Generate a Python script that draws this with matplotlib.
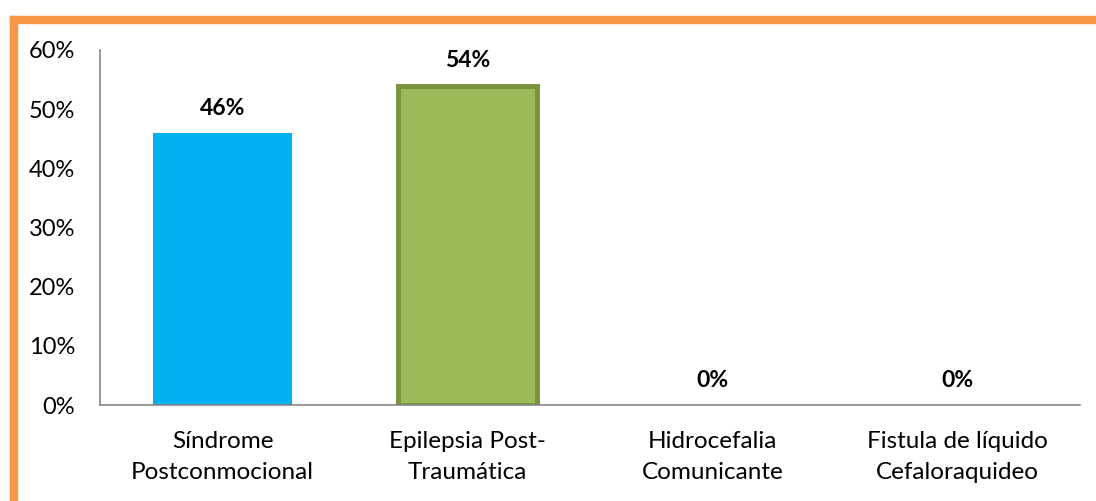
import matplotlib.pyplot as plt
from matplotlib.patches import Rectangle
from matplotlib.ticker import FuncFormatter

categories = ["Síndrome\nPostconmocional", "Epilepsia Post-\nTraumática",
              "Hidrocefalia\nComunicante", "Fistula de líquido\nCefaloraquideo"]
values = [46, 54, 0, 0]
fills = ["#00B0F0", "#9BBB59", "#9BBB59", "#9BBB59"]
edges = ["#00B0F0", "#76923C", "#76923C", "#76923C"]
yticks = [0, 10, 20, 30, 40, 50, 60]

plt.rcParams['font.family'] = ['Lato', 'DejaVu Sans']

fig = plt.figure(figsize=(10.96, 5.01), dpi=100)
ax = fig.add_axes([100 / 1096, 96 / 501, 980 / 1096, 355 / 501])

x = range(len(categories))
for i, v in enumerate(values):
    lw = 0 if i == 0 else 3.5
    if v > 0:
        ax.bar(i, v, width=0.57, color=fills[i], edgecolor=edges[i], linewidth=lw)
    ax.text(i, v + 2.4, f"{v}%", ha='center', va='bottom', fontsize=16.5, fontweight='bold')

ax.set_xlim(-0.5, len(categories) - 0.5)
ax.set_ylim(0, 60)
ax.set_yticks(yticks)
ax.yaxis.set_major_formatter(FuncFormatter(lambda v, p: f"{int(v)}%"))
ax.set_xticks(list(x))
ax.set_xticklabels(categories, fontsize=17.5, linespacing=1.55)
ax.tick_params(axis='y', length=0, pad=18, labelsize=17)
ax.tick_params(axis='x', length=0, pad=19)

for s in ['top', 'right']:
    ax.spines[s].set_visible(False)
for s in ['left', 'bottom']:
    ax.spines[s].set_color('#868686')
    ax.spines[s].set_linewidth(1.2)

# orange frame on top and left
fig.patches.append(Rectangle((10 / 1096, 0), 7 / 1096, 485 / 501,
                             transform=fig.transFigure, color='#F79646'))
fig.patches.append(Rectangle((10 / 1096, 478 / 501), 1086 / 1096, 7 / 501,
                             transform=fig.transFigure, color='#F79646'))

fig.savefig("out.png", dpi=100)
